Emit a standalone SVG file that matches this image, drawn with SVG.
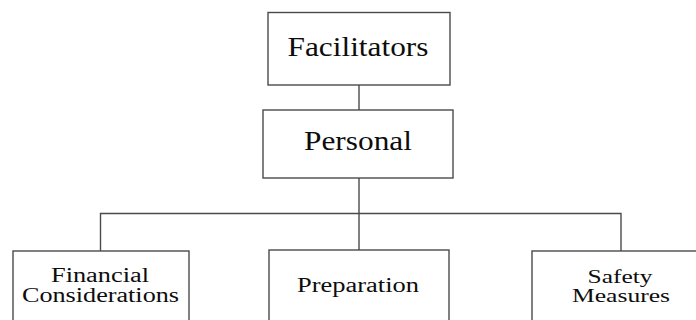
<svg xmlns="http://www.w3.org/2000/svg" width="696" height="320" viewBox="0 0 696 320">
  <style>
    .box { fill: #ffffff; stroke: #4a4a4a; stroke-width: 1.4; }
    .link { fill: none; stroke: #4a4a4a; stroke-width: 1.4; }
    .lbl { font-family: "Liberation Serif", "Times New Roman", serif; fill: #0d0d0d; text-anchor: middle; }
    .big { font-size: 27px; }
    .small { font-size: 20px; }
    .tight { font-size: 19px; }
  </style>
  <rect width="696" height="320" fill="#ffffff"/>

  <g id="connectors">
    <line class="link" x1="359" y1="85" x2="359" y2="110"/>
    <line class="link" x1="359" y1="178" x2="359" y2="213.5"/>
    <polyline class="link" points="100.5,251 100.5,213.5 621,213.5 621,251"/>
    <line class="link" x1="359" y1="213.5" x2="359" y2="250"/>
  </g>

  <g id="facilitators">
    <rect class="box" x="268" y="12.5" width="182" height="72.5"/>
    <text class="lbl big" x="358" y="56" textLength="141" lengthAdjust="spacingAndGlyphs">Facilitators</text>
  </g>

  <g id="personal">
    <rect class="box" x="263" y="110" width="190" height="68"/>
    <text class="lbl big" x="358" y="150" textLength="108" lengthAdjust="spacingAndGlyphs">Personal</text>
  </g>

  <g id="financial">
    <rect class="box" x="13" y="251" width="176" height="80"/>
    <text class="lbl small" x="100" y="281.5" textLength="98" lengthAdjust="spacingAndGlyphs">Financial</text>
    <text class="lbl small" x="100.5" y="301.5" textLength="157" lengthAdjust="spacingAndGlyphs">Considerations</text>
  </g>

  <g id="preparation">
    <rect class="box" x="269" y="250" width="180" height="81"/>
    <text class="lbl small" x="358" y="291.5" textLength="122" lengthAdjust="spacingAndGlyphs">Preparation</text>
  </g>

  <g id="safety">
    <rect class="box" x="532" y="251" width="180" height="80"/>
    <text class="lbl tight" x="620" y="282.5" textLength="65" lengthAdjust="spacingAndGlyphs">Safety</text>
    <text class="lbl tight" x="621" y="302" textLength="98" lengthAdjust="spacingAndGlyphs">Measures</text>
  </g>
</svg>
